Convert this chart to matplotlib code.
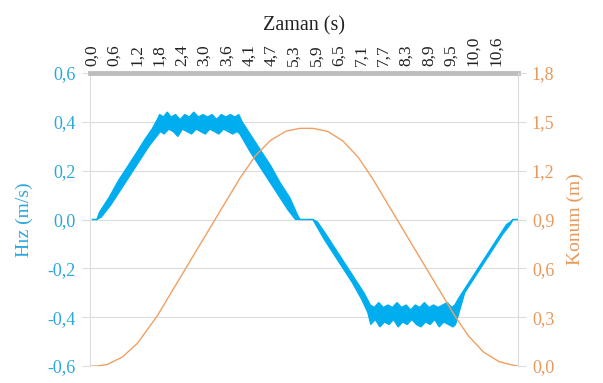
import numpy as np
import matplotlib
matplotlib.use("Agg")
import matplotlib.pyplot as plt

plt.rcParams['font.family'] = ['Liberation Serif', 'DejaVu Serif']

# Time axis tick positions (s) and their printed labels
time_ticks = [0.00, 0.59, 1.18, 1.77, 2.36, 2.95, 3.54, 4.13, 4.72, 5.31,
              5.90, 6.49, 7.08, 7.67, 8.26, 8.85, 9.44, 10.03, 10.62]
time_labels = ["0,0", "0,6", "1,2", "1,8", "2,4", "3,0", "3,6", "4,1", "4,7", "5,3",
               "5,9", "6,5", "7,1", "7,7", "8,3", "8,9", "9,5", "10,0", "10,6"]

# Velocity (m/s): upper edge of the measured band
vel_hi_t = [0.00, 0.13, 0.20, 0.45, 0.70, 0.95, 1.20, 1.40, 1.58, 1.72, 1.78,
            1.88, 1.98, 2.08, 2.20, 2.32, 2.44, 2.56, 2.68, 2.80, 2.92, 3.04, 3.16,
            3.28, 3.40, 3.52, 3.64, 3.76, 3.86, 3.95, 4.20, 4.45, 4.70, 4.95, 5.20,
            5.40, 5.47, 5.81, 5.93, 6.15, 6.40, 6.65, 6.90, 7.15, 7.32, 7.42,
            7.54, 7.66, 7.78, 7.90, 8.02, 8.14, 8.26, 8.38, 8.50, 8.62, 8.74, 8.86,
            8.98, 9.10, 9.22, 9.34, 9.46, 9.54, 9.65, 9.90, 10.15, 10.40, 10.65,
            10.90, 11.00, 11.07, 11.20]
vel_hi_v = [0.00, 0.00, 0.03, 0.09, 0.16, 0.22, 0.28, 0.33, 0.37, 0.41, 0.43,
            0.42, 0.44, 0.42, 0.43, 0.41, 0.43, 0.42, 0.44, 0.42, 0.43, 0.42, 0.43,
            0.41, 0.43, 0.42, 0.43, 0.42, 0.43, 0.40, 0.34, 0.28, 0.22, 0.15, 0.09,
            0.02, 0.00, 0.00, -0.01, -0.06, -0.12, -0.18, -0.24, -0.30, -0.35, -0.36,
            -0.34, -0.36, -0.35, -0.36, -0.34, -0.36, -0.35, -0.37, -0.35, -0.36, -0.34, -0.36,
            -0.35, -0.36, -0.35, -0.34, -0.36, -0.35, -0.32, -0.26, -0.20, -0.14, -0.08,
            -0.02, -0.01, 0.00, 0.00]

# Velocity (m/s): lower edge of the measured band
vel_lo_t = [0.00, 0.13, 0.25, 0.50, 0.75, 1.00, 1.25, 1.50, 1.70, 1.80,
            1.90, 2.02, 2.14, 2.26, 2.38, 2.50, 2.62, 2.74, 2.86, 2.98, 3.10, 3.22,
            3.34, 3.46, 3.58, 3.70, 3.82, 3.89, 4.15, 4.40, 4.65, 4.90, 5.15, 5.35,
            5.47, 5.81, 5.88, 6.10, 6.35, 6.60, 6.85, 7.10, 7.25, 7.33,
            7.45, 7.57, 7.69, 7.81, 7.93, 8.05, 8.17, 8.29, 8.41, 8.53, 8.65, 8.77,
            8.89, 9.01, 9.13, 9.25, 9.37, 9.49, 9.56, 9.80, 10.05, 10.30, 10.55,
            10.80, 11.00, 11.07, 11.20]
vel_lo_v = [0.00, 0.00, 0.01, 0.06, 0.12, 0.18, 0.24, 0.30, 0.34, 0.36,
            0.35, 0.37, 0.36, 0.34, 0.37, 0.36, 0.35, 0.37, 0.36, 0.35, 0.37, 0.36,
            0.35, 0.37, 0.36, 0.35, 0.36, 0.35, 0.28, 0.22, 0.16, 0.10, 0.04, 0.00,
            0.00, 0.00, -0.02, -0.08, -0.14, -0.20, -0.26, -0.33, -0.38, -0.43,
            -0.41, -0.44, -0.42, -0.43, -0.41, -0.44, -0.42, -0.43, -0.41, -0.43, -0.44, -0.42,
            -0.43, -0.41, -0.44, -0.42, -0.43, -0.44, -0.43, -0.30, -0.24, -0.18, -0.12,
            -0.06, -0.02, 0.00, 0.00]

# Position (m)
pos_t = [0.00, 0.13, 0.40, 0.80, 1.20, 1.72, 2.20, 2.80, 3.40, 3.89, 4.30, 4.70,
         5.10, 5.47, 5.81, 6.20, 6.60, 7.00, 7.36, 7.90, 8.50, 9.00, 9.54, 9.90,
         10.30, 10.70, 11.07, 11.20]
pos_v = [0.000, 0.000, 0.009, 0.055, 0.140, 0.309, 0.496, 0.730, 0.963, 1.153, 1.292, 1.387,
         1.443, 1.460, 1.460, 1.441, 1.382, 1.282, 1.158, 0.947, 0.713, 0.518, 0.308, 0.184,
         0.085, 0.027, 0.005, 0.000]

vel_ticks = [-0.6, -0.4, -0.2, 0.0, 0.2, 0.4, 0.6]
vel_tick_labels = ["-0,6", "-0,4", "-0,2", "0,0", "0,2", "0,4", "0,6"]
pos_ticks = [0.0, 0.3, 0.6, 0.9, 1.2, 1.5, 1.8]
pos_tick_labels = ["0,0", "0,3", "0,6", "0,9", "1,2", "1,5", "1,8"]

BLUE = "#00AEEF"
BLUE_TXT = "#2AA8DC"
ORANGE = "#F0A062"
ORANGE_TXT = "#E9985A"
GRID = "#DCDCDC"

fig = plt.figure(figsize=(6.03, 3.83), dpi=100)
ax = fig.add_axes([90 / 603, 1 - 366 / 383, 428 / 603, (366 - 73) / 383])

# velocity band
poly_t = np.concatenate([vel_hi_t, vel_lo_t[::-1]])
poly_v = np.concatenate([vel_hi_v, vel_lo_v[::-1]])
ax.fill(poly_t, poly_v, facecolor=BLUE, edgecolor=BLUE, linewidth=0.9, zorder=3)

ax.set_xlim(-0.05, 11.2)
ax.set_ylim(-0.6, 0.6)
ax.set_yticks(vel_ticks)
ax.set_yticklabels(vel_tick_labels)
ax.grid(axis='y', color=GRID, linewidth=0.8, zorder=0)
ax.set_axisbelow(True)

ax.xaxis.tick_top()
ax.xaxis.set_label_position('top')
ax.set_xticks(time_ticks)
ax.set_xticklabels(time_labels, rotation=90, fontsize=12.5, color="#222222")
ax.tick_params(axis='x', length=0, pad=5)
ax.set_xlabel("Zaman (s)", fontsize=14.5, color="#222222", labelpad=4)

ax.tick_params(axis='y', length=6, color=GRID, labelcolor=BLUE_TXT, labelsize=13, pad=4)
ax.set_ylabel("Hız (m/s)", fontsize=14, color=BLUE_TXT, labelpad=11)

for s in ['right', 'bottom']:
    ax.spines[s].set_visible(False)
ax.spines['left'].set_color(GRID)
ax.spines['left'].set_linewidth(0.8)
ax.spines['top'].set_color("#BDBDBD")
ax.spines['top'].set_linewidth(3.5)
ax.spines['top'].set_zorder(5)

ax2 = ax.twinx()
ax2.plot(pos_t, pos_v, color=ORANGE, linewidth=1.0, zorder=4)
ax2.set_ylim(0, 1.8)
ax2.set_yticks(pos_ticks)
ax2.set_yticklabels(pos_tick_labels)
ax2.tick_params(axis='y', length=6, color=GRID, labelcolor=ORANGE_TXT, labelsize=13, pad=4)
ax2.set_ylabel("Konum (m)", fontsize=14, color=ORANGE_TXT, rotation=90, labelpad=9)
for s in ['left', 'top', 'bottom']:
    ax2.spines[s].set_visible(False)
ax2.spines['right'].set_color(GRID)
ax2.spines['right'].set_linewidth(0.8)

fig.savefig("out.png", dpi=100)
